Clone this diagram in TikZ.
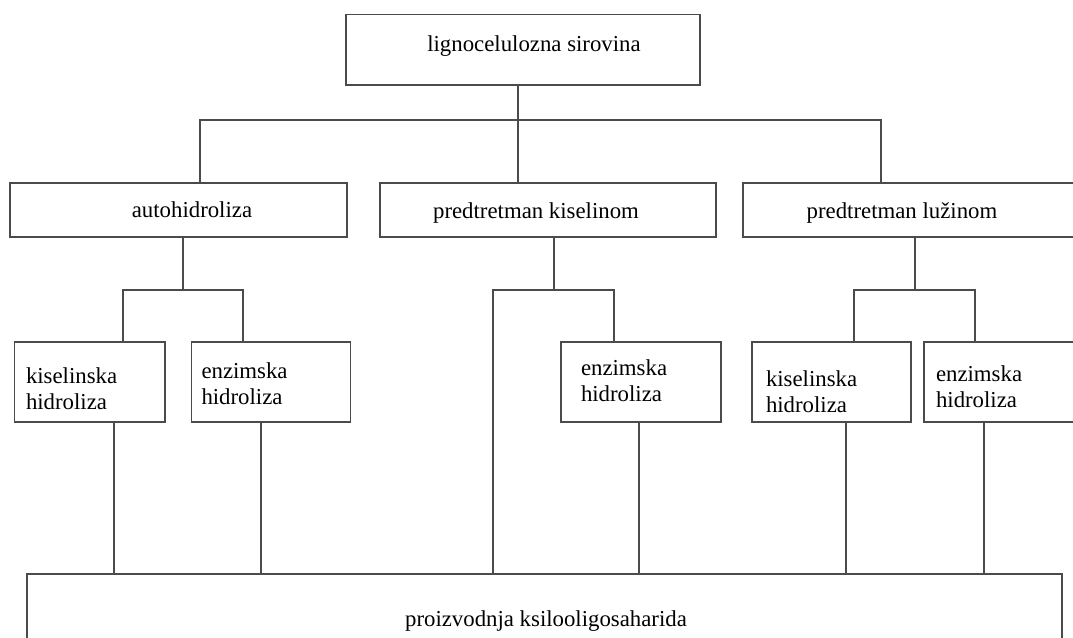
\documentclass[tikz,border=0pt]{standalone}
\usepackage{fontspec}
\setmainfont{Liberation Serif}
\definecolor{linec}{RGB}{75,75,75}
\begin{document}
\begin{tikzpicture}[x=1pt,y=-1pt,
  box/.style={draw=linec,line width=1.8pt,rectangle,inner sep=0pt,outer sep=0pt},
  conn/.style={draw=linec,line width=1.8pt},
  lbl/.style={inner sep=0pt,outer sep=0pt,font=\fontsize{22.8pt}{26pt}\selectfont},
  lbl2/.style={lbl,align=left,anchor=base west}]
\useasboundingbox (0,0) rectangle (1073,637);
\clip (0,0) rectangle (1073,637);
% boxes
\node[box,minimum width=354pt,minimum height=70.5pt] (lig) at (523,49.75) {};
\node[box,minimum width=337pt,minimum height=54pt] (auto) at (178.5,210) {};
\node[box,minimum width=336pt,minimum height=54pt] (kis) at (548,210) {};
\node[box,minimum width=347pt,minimum height=54pt] (luz) at (916.5,210) {};
\node[box,minimum width=150.5pt,minimum height=80pt] (ha) at (89.75,382) {};
\node[box,minimum width=159pt,minimum height=80pt] (hb) at (271,382) {};
\node[box,minimum width=160pt,minimum height=80pt] (hc) at (641,382) {};
\node[box,minimum width=159pt,minimum height=80pt] (hd) at (831.5,382) {};
\node[box,minimum width=166pt,minimum height=80pt] (he) at (1007,382) {};
\node[box,minimum width=1034.6pt,minimum height=86pt] (out) at (544.3,617) {};
% texts
\node[lbl,anchor=base] (tlig) at (534,51.6) {lignocelulozna sirovina};
\node[lbl,anchor=base] (tauto) at (192,217.6) {autohidroliza};
\node[lbl,anchor=base] (tkis) at (536,218) {predtretman kiselinom};
\node[lbl,anchor=base] (tluz) at (902,218) {predtretman lužinom};
\node[lbl2] (tha) at (26,409) {kiselinska\\hidroliza};
\node[lbl2] (thb) at (201.5,404.5) {enzimska\\hidroliza};
\node[lbl2] (thc) at (581,401) {enzimska\\hidroliza};
\node[lbl2] (thd) at (766,412) {kiselinska\\hidroliza};
\node[lbl2] (the) at (936,407) {enzimska\\hidroliza};
\node[lbl,anchor=base] (tout) at (546,626) {proizvodnja ksilooligosaharida};
% junction coordinates
\coordinate (j0) at (518,120);
\coordinate (b1) at (200,120);
\coordinate (b2) at (881,120);
\coordinate (ja) at (183,290);
\coordinate (ja1) at (123,290);
\coordinate (ja2) at (243,290);
\coordinate (jk) at (554,290);
\coordinate (jk1) at (493,290);
\coordinate (jk2) at (614,290);
\coordinate (jl) at (915,290);
\coordinate (jl1) at (854,290);
\coordinate (jl2) at (975,290);
% level 1 connectors
\draw[conn] (lig.south -| j0) -- (kis.north -| j0);
\draw[conn] (auto.north -| b1) -- (b1) -- (b2) -- (luz.north -| b2);
% autohidroliza subtree
\draw[conn] (auto.south -| ja) -- (ja);
\draw[conn] (ha.north -| ja1) -- (ja1) -- (ja2) -- (hb.north -| ja2);
% kiselinom subtree
\draw[conn] (kis.south -| jk) -- (jk);
\draw[conn] (out.north -| jk1) -- (jk1) -- (jk2) -- (hc.north -| jk2);
% luzinom subtree
\draw[conn] (luz.south -| jl) -- (jl);
\draw[conn] (hd.north -| jl1) -- (jl1) -- (jl2) -- (he.north -| jl2);
% to product
\draw[conn] (ha.south -| 114,0) -- (out.north -| 114,0);
\draw[conn] (hb.south -| 261,0) -- (out.north -| 261,0);
\draw[conn] (hc.south -| 639,0) -- (out.north -| 639,0);
\draw[conn] (hd.south -| 846,0) -- (out.north -| 846,0);
\draw[conn] (he.south -| 984,0) -- (out.north -| 984,0);
\end{tikzpicture}
\end{document}
